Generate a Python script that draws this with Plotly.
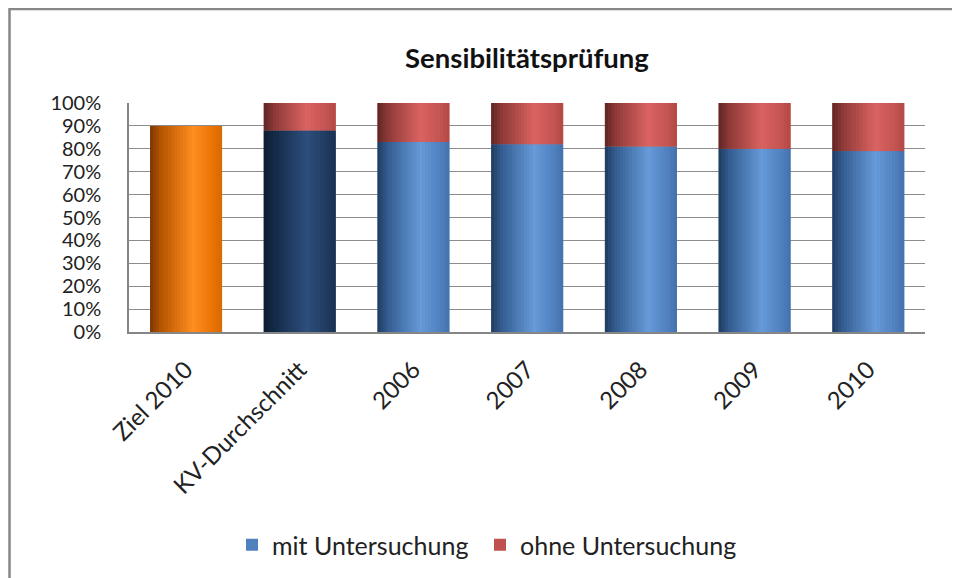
import plotly.graph_objects as go

categories = ["Ziel 2010", "KV-Durchschnitt", "2006", "2007", "2008", "2009", "2010"]
mit_untersuchung = [90, 88, 83, 82, 81, 80, 79]
ohne_untersuchung = [None, 12, 17, 18, 19, 20, 21]
y_ticks = [0, 10, 20, 30, 40, 50, 60, 70, 80, 90, 100]
y_tick_labels = [f"{v}%" for v in y_ticks]

# colour group for each category (bottom segment)
groups = ["orange", "navy", "blue", "blue", "blue", "blue", "blue"]

# gradient stops (position across bar, colour)
stops = {
    "orange": [(0.0, "#7a3800"), (0.15, "#b55500"), (0.6, "#ff8d20"), (0.85, "#ec7608"), (1.0, "#d86a00")],
    "navy": [(0.0, "#0c1c31"), (0.15, "#132a47"), (0.6, "#2d4f7c"), (0.85, "#213d63"), (1.0, "#1a3253")],
    "blue": [(0.0, "#1f3a5e"), (0.15, "#345d91"), (0.6, "#669ad8"), (0.85, "#5283c2"), (1.0, "#4472ad")],
    "red": [(0.0, "#5e2524"), (0.15, "#8e3a38"), (0.6, "#da6361"), (0.85, "#c65653"), (1.0, "#b34845")],
}
base_colors = {"orange": "#f28a1e", "navy": "#1f3a5f", "blue": "#4f81bd", "red": "#c0504d"}


def hex2rgb(h):
    h = h.lstrip("#")
    return tuple(int(h[i:i + 2], 16) for i in (0, 2, 4))


def grad(group, t):
    s = stops[group]
    for (t0, c0), (t1, c1) in zip(s[:-1], s[1:]):
        if t0 <= t <= t1:
            f = (t - t0) / (t1 - t0) if t1 > t0 else 0
            a, b = hex2rgb(c0), hex2rgb(c1)
            r = [round(a[k] + (b[k] - a[k]) * f) for k in range(3)]
            return f"rgb({r[0]},{r[1]},{r[2]})"
    return s[-1][1]


W = 0.63
N = 24
sw = W / N

fig = go.Figure()

# base solid bars (legend entries)
fig.add_trace(go.Bar(x=categories[:2], y=mit_untersuchung[:2], width=W,
                     marker=dict(color=[base_colors[g] for g in groups[:2]], line=dict(width=0)),
                     showlegend=False, hoverinfo="skip"))
fig.add_trace(go.Bar(x=categories[2:], y=mit_untersuchung[2:], width=W, name="mit Untersuchung",
                     marker=dict(color=base_colors["blue"], line=dict(width=0)), legend="legend"))
fig.add_trace(go.Bar(x=categories, y=ohne_untersuchung, base=mit_untersuchung, width=W,
                     name="ohne Untersuchung",
                     marker=dict(color=base_colors["red"], line=dict(width=0)), legend="legend2"))

# gradient slices
for i in range(N):
    t = (i + 0.5) / N
    off = -W / 2 + i * sw
    fig.add_trace(go.Bar(x=categories, y=mit_untersuchung, offset=off, width=sw * 1.15,
                         marker=dict(color=[grad(g, t) for g in groups], line=dict(width=0)),
                         showlegend=False, hoverinfo="skip"))
    fig.add_trace(go.Bar(x=categories, y=ohne_untersuchung, base=mit_untersuchung,
                         offset=off, width=sw * 1.15,
                         marker=dict(color=grad("red", t), line=dict(width=0)),
                         showlegend=False, hoverinfo="skip"))

font = "Lato, 'Open Sans', sans-serif"

# page has an 8px body margin: figure origin sits at page (8, 8)
FW, FH = 952, 570
L, R, T, B = 121, 35, 95, 245
pw = FW - L - R
ph = FH - T - B

legend_common = dict(orientation="h", xref="paper", xanchor="left",
                     y=(T + ph - 537) / ph, yanchor="middle",
                     font=dict(size=25, color="#222222"), bgcolor="rgba(0,0,0,0)")

fig.update_layout(
    width=FW, height=FH,
    barmode="overlay",
    paper_bgcolor="white", plot_bgcolor="white",
    margin=dict(l=L, r=R, t=T, b=B),
    font=dict(family=font, size=18, color="#222222"),
    title=dict(text="<b>Sensibilitätsprüfung</b>", x=0.5, xref="paper", xanchor="center",
               y=1 - 50 / FH, yanchor="middle", font=dict(size=27.5, color="#111111")),
    showlegend=True,
    legend=dict(x=(254 - 8 - 22 - L) / pw, **legend_common),
    legend2=dict(x=(502 - 8 - 22 - L) / pw, **legend_common),
    xaxis=dict(type="category", tickangle=-45, showline=True, linecolor="#868686", linewidth=2,
               ticks="", ticklabelstandoff=12, tickfont=dict(size=24, color="#222222")),
    yaxis=dict(range=[0, 100], tickvals=y_ticks, ticktext=y_tick_labels,
               showgrid=True, gridcolor="#8c8c8c", gridwidth=1.3,
               showline=True, linecolor="#868686", linewidth=1.5, ticks="",
               ticklabelstandoff=22,
               zeroline=False, tickfont=dict(size=20, color="#222222")),
    shapes=[dict(type="rect", xref="paper", yref="paper",
                 x0=(1.5 - L) / pw, x1=(FW + 20 - L) / pw,
                 y0=(T + ph - FH - 20) / ph, y1=(T + ph - 0.5) / ph,
                 line=dict(color="#878787", width=2.5), fillcolor="rgba(0,0,0,0)", layer="below")],
)

fig.write_html("out.html")
